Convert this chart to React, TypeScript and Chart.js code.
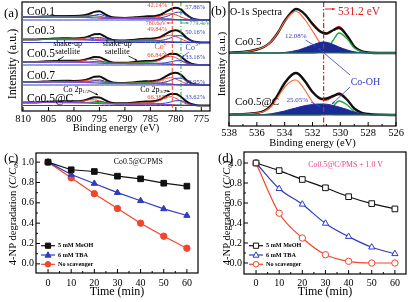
import React, { useEffect, useRef } from "react";
import { Chart, registerables } from "chart.js";

Chart.register(...registerables);

const SERIF = "'Liberation Serif', 'Times New Roman', serif";
const W = 414;
const H = 302;

// ---------------- (a) Co 2p XPS ----------------
const A_BE = [810, 808, 806, 804, 802, 800, 798, 797, 796, 795, 794, 793, 792, 790, 788, 786, 785, 784, 783, 782, 781, 780, 779, 778, 777, 776, 775, 773.3];
const A_TICKS = [810, 805, 800, 795, 790, 785, 780, 775];
const A_SAMPLES = ["Co0.1", "Co0.3", "Co0.5", "Co0.7", "Co0.5@C"];
const A_BASELINE = [91, 68.5, 46, 26, 5.5];
const A_BACKGROUND = [3.0, 3.0, 3.0, 3.0, 2.9, 2.8, 2.6, 2.4, 2.1, 1.8, 1.6, 1.5, 1.5, 1.5, 1.4, 1.4, 1.3, 1.3, 1.2, 1.0, 0.8, 0.5, 0.3, 0.1, 0, 0, 0, 0];
const A_SATELLITE = [0, 0, 0.3, 0.6, 0.8, 0.6, 0.3, 0.4, 0.9, 1.2, 0.9, 0.4, 0.2, 0.3, 0.6, 0.9, 0.8, 0.5, 0.2, 0.05, 0, 0, 0, 0, 0, 0, 0, 0];
const A_CO2_01 = [0, 0, 0.1, 0.3, 0.4, 0.6, 1.4, 2.2, 2.5, 1.9, 1.1, 0.6, 0.3, 0.3, 0.7, 1.1, 1.2, 1.7, 2.8, 4.7, 5.5, 4.7, 2.8, 1.1, 0.3, 0, 0, 0];
const A_CO2_03 = [0, 0, 0.1, 0.3, 0.5, 0.7, 1.6, 2.6, 2.9, 2.3, 1.3, 0.7, 0.3, 0.3, 0.8, 1.3, 1.4, 2.0, 3.3, 5.5, 6.5, 5.5, 3.3, 1.3, 0.3, 0, 0, 0];
const A_CO2_05 = [0, 0, 0.2, 0.4, 0.6, 0.8, 2.0, 3.2, 3.6, 2.8, 1.6, 0.8, 0.4, 0.4, 1.0, 1.6, 1.8, 2.4, 4.0, 6.8, 8.0, 6.8, 4.0, 1.6, 0.4, 0, 0, 0];
const A_CO2_07 = [0, 0, 0.1, 0.3, 0.5, 0.7, 1.6, 2.6, 2.9, 2.3, 1.3, 0.7, 0.3, 0.3, 0.8, 1.3, 1.4, 2.0, 3.3, 5.5, 6.5, 5.5, 3.3, 1.3, 0.3, 0, 0, 0];
const A_CO2_05C = [0, 0, 0.2, 0.4, 0.6, 0.8, 2.0, 3.2, 3.6, 2.8, 1.6, 0.8, 0.4, 0.4, 1.0, 1.6, 1.8, 2.4, 4.0, 6.8, 8.0, 6.8, 4.0, 1.6, 0.4, 0, 0, 0];
const A_CO3_01 = [0, 0, 0, 0, 0, 0, 0.4, 1.1, 2.6, 3.8, 2.6, 1.1, 0.4, 0, 0, 0.2, 0.4, 0.6, 1.1, 2.3, 4.5, 7.1, 7.5, 4.5, 1.9, 0.5, 0.1, 0];
const A_CO3_03 = [0, 0, 0, 0, 0, 0, 0.3, 1.0, 2.3, 3.3, 2.3, 1.0, 0.3, 0, 0, 0.2, 0.3, 0.5, 1.0, 2.0, 3.9, 6.2, 6.5, 3.9, 1.6, 0.5, 0.1, 0];
const A_CO3_05 = [0, 0, 0, 0, 0, 0, 0.2, 0.6, 1.4, 2.0, 1.4, 0.6, 0.2, 0, 0, 0.1, 0.2, 0.3, 0.6, 1.2, 2.4, 3.8, 4.0, 2.4, 1.0, 0.3, 0, 0];
const A_CO3_07 = [0, 0, 0, 0, 0, 0, 0.3, 1.0, 2.3, 3.3, 2.3, 1.0, 0.3, 0, 0, 0.2, 0.3, 0.5, 1.0, 2.0, 3.9, 6.2, 6.5, 3.9, 1.6, 0.5, 0.1, 0];
const A_CO3_05C = [0, 0, 0, 0, 0, 0, 0.2, 0.7, 1.6, 2.3, 1.6, 0.7, 0.2, 0, 0, 0.1, 0.2, 0.4, 0.7, 1.4, 2.7, 4.3, 4.5, 2.7, 1.1, 0.3, 0, 0];
const A_CO2 = [A_CO2_01, A_CO2_03, A_CO2_05, A_CO2_07, A_CO2_05C];
const A_CO3 = [A_CO3_01, A_CO3_03, A_CO3_05, A_CO3_07, A_CO3_05C];
const A_CO2_PCT = ["42.14%", "49.84%", "66.84%", "51.05%", "66.38%"];
const A_CO3_PCT = ["57.86%", "50.16%", "33.16%", "48.95%", "33.62%"];

// ---------------- (b) O 1s XPS ----------------
const B_BE = [538, 537, 536, 535.5, 535, 534.5, 534, 533.5, 533.2, 533, 532.5, 532, 531.5, 531.2, 531, 530.5, 530.1, 529.5, 529, 528.5, 528, 527, 526];
const B_TICKS = [538, 536, 534, 532, 530, 528, 526];
const B_SAMPLES = ["Co0.5", "Co0.5@C"];
const B_BASELINE = [73, 11];
const B_OH_PCT = ["12.08%", "25.05%"];
const B_RAW_05 = [0.3, 1, 3.5, 6, 11, 20, 32, 41, 44, 43.5, 38, 29, 22, 20, 19.5, 23, 25, 17, 6.5, 2, 0.5, 0, 0];
const B_OA_05 = [0.3, 1, 3.5, 6, 11, 20, 31.5, 39.5, 41.5, 40.5, 32.5, 22, 11, 6, 4, 1.5, 0.5, 0, 0, 0, 0, 0, 0];
const B_OH_05 = [0, 0, 0, 0, 0, 0, 0.5, 1.5, 2.5, 3, 5.5, 8, 10.5, 11, 10.8, 8.5, 6, 3, 1.2, 0.4, 0, 0, 0];
const B_OL_05 = [0, 0, 0, 0, 0, 0, 0, 0, 0, 0, 0, 0, 1, 2.5, 4, 13, 20, 14, 5, 1.5, 0.3, 0, 0];
const B_RAW_05C = [0.3, 0.8, 2, 4, 9, 20, 32, 40, 42, 41, 33, 23, 17, 16, 16.5, 19, 21, 15, 6.5, 2.5, 1, 0.2, 0];
const B_OA_05C = [0.3, 0.8, 2, 3.5, 8, 17.5, 28, 34, 35, 33.5, 24, 13, 5, 2.5, 1.5, 0.3, 0, 0, 0, 0, 0, 0, 0];
const B_OH_05C = [0, 0, 0, 0.5, 1.2, 2.5, 4, 6, 7, 7.8, 9.5, 10.5, 11, 11, 10.8, 9.5, 8, 5.5, 3, 1.5, 0.6, 0, 0];
const B_OL_05C = [0, 0, 0, 0, 0, 0, 0, 0, 0, 0, 0, 0, 0, 1.5, 2.5, 9, 14, 10, 3.5, 1, 0.3, 0, 0];
const B_RAW = [B_RAW_05, B_RAW_05C];
const B_OA = [B_OA_05, B_OA_05C];
const B_OH = [B_OH_05, B_OH_05C];
const B_OL = [B_OL_05, B_OL_05C];

// ---------------- (c), (d) degradation ----------------
const TIME = [0, 10, 20, 30, 40, 50, 60];
const SERIES_LABELS = ["5 mM MeOH", "6 mM TBA", "No scavenger"];
const C_MEOH = [1.0, 0.925, 0.908, 0.862, 0.836, 0.793, 0.764];
const C_TBA = [1.0, 0.879, 0.79, 0.7, 0.62, 0.54, 0.475];
const C_NONE = [1.0, 0.846, 0.69, 0.544, 0.4, 0.272, 0.154];
const D_MEOH = [1.0, 0.924, 0.835, 0.752, 0.663, 0.594, 0.541];
const D_TBA = [1.0, 0.743, 0.587, 0.396, 0.264, 0.158, 0.092];
const D_NONE = [1.0, 0.498, 0.25, 0.083, 0.017, 0.0, 0.0];
const CD_X_TICKS = [0, 10, 20, 30, 40, 50, 60];
const CD_Y_TICKS = [0, 0.2, 0.4, 0.6, 0.8, 1.0];

// ---------------- colours ----------------
const K = "#111111";
const RED = "#f2452b";
const BLUE = "#2f3cc2";
const GREEN = "#1aa843";
const PURPLE = "#8a46c9";
const NAVY = "#1c2a96";
const ORANGE = "#ff6a3d";

// ---------------- drawing helpers ----------------
type Part = { t: string; s: number; dy?: number; i?: boolean; b?: boolean };

function fontOf(p: Part) {
  return `${p.i ? "italic " : ""}${p.b ? "bold " : ""}${p.s}px ${SERIF}`;
}

function rich(ctx: CanvasRenderingContext2D, parts: Part[], x: number, y: number, color: string, align: "left" | "center" | "right" = "left") {
  let total = 0;
  for (const p of parts) {
    ctx.font = fontOf(p);
    total += ctx.measureText(p.t).width;
  }
  let cx = align === "center" ? x - total / 2 : align === "right" ? x - total : x;
  ctx.fillStyle = color;
  ctx.textAlign = "left";
  ctx.textBaseline = "middle";
  for (const p of parts) {
    ctx.font = fontOf(p);
    ctx.fillText(p.t, cx, y + (p.dy || 0));
    cx += ctx.measureText(p.t).width;
  }
}

function txt(ctx: CanvasRenderingContext2D, s: string, x: number, y: number, size: number, color = "#000", align: "left" | "center" | "right" = "left") {
  rich(ctx, [{ t: s, s: size }], x, y, color, align);
}

function arrow(ctx: CanvasRenderingContext2D, x1: number, y1: number, x2: number, y2: number, color: string, head = 3, lw = 0.8) {
  ctx.strokeStyle = color;
  ctx.fillStyle = color;
  ctx.lineWidth = lw;
  ctx.setLineDash([]);
  ctx.beginPath();
  ctx.moveTo(x1, y1);
  ctx.lineTo(x2, y2);
  ctx.stroke();
  const a = Math.atan2(y2 - y1, x2 - x1);
  ctx.beginPath();
  ctx.moveTo(x2, y2);
  ctx.lineTo(x2 - head * Math.cos(a - 0.45), y2 - head * Math.sin(a - 0.45));
  ctx.lineTo(x2 - head * Math.cos(a + 0.45), y2 - head * Math.sin(a + 0.45));
  ctx.closePath();
  ctx.fill();
}

function yTitle(ctx: CanvasRenderingContext2D, parts: Part[], cx: number, cy: number) {
  ctx.save();
  ctx.translate(cx, cy);
  ctx.rotate(-Math.PI / 2);
  rich(ctx, parts, 0, 0, "#000", "center");
  ctx.restore();
}

// frame + inward ticks
const framePlugin = {
  id: "frame",
  afterDraw(chart: any, _a: any, opts: any) {
    const { ctx, chartArea: a, scales } = chart;
    ctx.save();
    ctx.setLineDash([]);
    ctx.strokeStyle = "#000";
    ctx.lineWidth = 1.2;
    ctx.strokeRect(a.left, a.top, a.right - a.left, a.bottom - a.top);
    ctx.lineWidth = 1;
    ctx.beginPath();
    const xs = scales.x;
    const xt = xs.ticks.map((t: any) => t.value);
    xt.forEach((v: number, i: number) => {
      const p = xs.getPixelForValue(v);
      ctx.moveTo(p, a.bottom);
      ctx.lineTo(p, a.bottom - 4);
      if (opts.minor && i < xt.length - 1) {
        const m = xs.getPixelForValue((v + xt[i + 1]) / 2);
        ctx.moveTo(m, a.bottom);
        ctx.lineTo(m, a.bottom - 2);
      }
    });
    if (opts.yTicks) {
      const ys = scales.y;
      const yt = ys.ticks.map((t: any) => t.value);
      yt.forEach((v: number, i: number) => {
        const p = ys.getPixelForValue(v);
        ctx.moveTo(a.left, p);
        ctx.lineTo(a.left + 4, p);
        if (opts.minor && i < yt.length - 1) {
          const m = ys.getPixelForValue((v + yt[i + 1]) / 2);
          ctx.moveTo(a.left, m);
          ctx.lineTo(a.left + 2, m);
        }
      });
    }
    ctx.stroke();
    ctx.restore();
  },
};

type Box = { L: number; T: number; R: number; B: number; yw: number; xh: number };

function layoutOf(b: Box) {
  return { padding: { left: b.L - b.yw, top: b.T, right: W - b.R, bottom: H - b.B - b.xh } };
}

function xAxis(b: Box, min: number, max: number, ticks: number[], reverse: boolean, title: string, tickSize: number, titleSize: number, tickPad: number) {
  return {
    type: "linear",
    min,
    max,
    reverse,
    grid: { display: false, drawTicks: false },
    border: { display: false },
    ticks: { font: { family: SERIF, size: tickSize }, color: "#000", padding: tickPad, autoSkip: false, maxRotation: 0 },
    afterBuildTicks: (s: any) => {
      s.ticks = ticks.map((v) => ({ value: v }));
    },
    afterFit: (s: any) => {
      s.height = b.xh;
      s.paddingLeft = 0;
      s.paddingRight = 0;
    },
    title: { display: true, text: title, color: "#000", font: { family: SERIF, size: titleSize }, padding: { top: 0, bottom: 0 } },
  };
}

function yAxis(b: Box, min: number, max: number, ticks: number[] | null, tickSize: number) {
  return {
    type: "linear",
    min,
    max,
    grid: { display: false, drawTicks: false },
    border: { display: false },
    ticks: {
      display: !!ticks,
      font: { family: SERIF, size: tickSize },
      color: "#000",
      padding: 2,
      autoSkip: false,
      callback: (v: number) => Number(v).toFixed(1),
    },
    afterBuildTicks: (s: any) => {
      if (ticks) s.ticks = ticks.map((v) => ({ value: v }));
    },
    afterFit: (s: any) => {
      s.width = b.yw;
      s.paddingTop = 0;
      s.paddingBottom = 0;
    },
    title: { display: false },
  };
}

function lineDs(data: { x: number; y: number }[], color: string, width: number, extra: any = {}) {
  return {
    data,
    borderColor: color,
    backgroundColor: color,
    borderWidth: width,
    pointRadius: 0,
    fill: false,
    cubicInterpolationMode: "monotone",
    ...extra,
  };
}

const baseOptions = {
  animation: false,
  responsive: false,
  devicePixelRatio: 1,
  events: [],
};

// ---------------- panel (a) ----------------
const BOX_A: Box = { L: 22, T: 2, R: 210, B: 111, yw: 22, xh: 23.3 };

function configA() {
  const datasets: any[] = [];
  A_SAMPLES.forEach((_, i) => {
    const base = A_BASELINE[i];
    const co2 = A_CO2[i];
    const co3 = A_CO3[i];
    const pts = (vals: number[]) => A_BE.map((be, k) => ({ x: be, y: base + vals[k] }));
    const flat = A_BE.map(() => 0);
    const bgSat = A_BACKGROUND.map((v, k) => v + A_SATELLITE[k]);
    const bgCo3 = A_BACKGROUND.map((v, k) => v + co3[k]);
    const bgCo2 = A_BACKGROUND.map((v, k) => v + co2[k]);
    const env = A_BACKGROUND.map((v, k) => v + co2[k] + co3[k] + A_SATELLITE[k]);
    datasets.push(lineDs(pts(flat), BLUE, 1));
    datasets.push(lineDs(pts(A_BACKGROUND), PURPLE, 1.2));
    datasets.push(lineDs(pts(bgSat), GREEN, 1));
    datasets.push(lineDs(pts(bgCo3), BLUE, 1));
    datasets.push(lineDs(pts(bgCo2), RED, 1));
    datasets.push(lineDs(pts(env), K, 2));
    datasets.push(lineDs(pts(env), PURPLE, 0.9));
  });

  const annot = {
    id: "annotA",
    afterDatasetsDraw(chart: any) {
      const { ctx, chartArea: a, scales } = chart;
      const px = (v: number) => scales.x.getPixelForValue(v);
      const py = (v: number) => scales.y.getPixelForValue(v);
      ctx.save();
      ctx.lineWidth = 1;
      ctx.strokeStyle = RED;
      ctx.setLineDash([4, 2]);
      ctx.beginPath();
      ctx.moveTo(px(780.7), a.top);
      ctx.lineTo(px(780.7), a.bottom);
      ctx.stroke();
      ctx.strokeStyle = GREEN;
      ctx.setLineDash([4, 2, 1, 2]);
      ctx.beginPath();
      ctx.moveTo(px(779.0), a.top);
      ctx.lineTo(px(779.0), a.bottom);
      ctx.stroke();
      ctx.setLineDash([]);

      const labelU = [99.5, 80, 57, 35, 12.5];
      A_SAMPLES.forEach((s, i) => txt(ctx, s, px(809.2), py(labelU[i]), 11.5));
      const redU = [106, 82, 56, 29, 14];
      const blueU = [104, 79, 54, 29, 14];
      A_CO2_PCT.forEach((s, i) => txt(ctx, s, px(783.65), py(redU[i]), 6.5, RED, "center"));
      A_CO3_PCT.forEach((s, i) => txt(ctx, s, px(776.2), py(blueU[i]), 6.5, BLUE, "center"));

      txt(ctx, "780.6eV", px(781.9), py(88), 6, RED, "right");
      arrow(ctx, px(780.7), py(88), px(781.8), py(88), RED, 2.5);
      txt(ctx, "779.4eV", px(777.3), py(88), 6, GREEN, "left");
      arrow(ctx, px(779.0), py(88), px(777.5), py(88), GREEN, 2.5);

      rich(ctx, [{ t: "Co", s: 8 }, { t: "2+", s: 5.5, dy: -3 }], px(782.7), py(64), RED, "center");
      rich(ctx, [{ t: "Co", s: 8 }, { t: "3+", s: 5.5, dy: -3 }], px(776.6), py(63), BLUE, "center");
      arrow(ctx, px(782.4), py(60), px(781.4), py(54), RED, 2.5);
      arrow(ctx, px(777.4), py(59), px(778.8), py(54), BLUE, 2.5);

      txt(ctx, "shake-up", px(801.25), py(67), 8, "#000", "center");
      txt(ctx, "satellite", px(801.25), py(59), 8, "#000", "center");
      txt(ctx, "shake-up", px(791.5), py(67), 8, "#000", "center");
      txt(ctx, "satellite", px(791.5), py(59), 8, "#000", "center");
      arrow(ctx, px(802.0), py(54.5), px(803.2), py(50.5), "#000", 2.5);
      arrow(ctx, px(789.3), py(55), px(787.6), py(50.5), "#000", 2.5);

      rich(ctx, [{ t: "Co 2p", s: 8 }, { t: "1/2", s: 5, dy: 2 }], px(802.1), py(21), "#000");
      arrow(ctx, px(797.1), py(20.5), px(795.3), py(16), "#000", 2.5);
      rich(ctx, [{ t: "Co 2p", s: 8 }, { t: "3/2", s: 5, dy: 2 }], px(787.0), py(21), "#000");
      arrow(ctx, px(782.2), py(20.5), px(781.2), py(19.5), "#000", 2.5);

      yTitle(ctx, [{ t: "Intensity (a.u.)", s: 12 }], 13, 64);
      txt(ctx, "(a)", 4, 14, 13);
      ctx.restore();
    },
  };

  return {
    type: "line",
    data: { datasets },
    options: {
      ...baseOptions,
      layout: layoutOf(BOX_A),
      plugins: { legend: { display: false }, tooltip: { enabled: false }, frame: { minor: false, yTicks: false } },
      scales: {
        x: xAxis(BOX_A, 773.3, 810.2, A_TICKS, true, "Binding energy (eV)", 10.5, 10.5, 2),
        y: yAxis(BOX_A, 0, BOX_A.B - BOX_A.T, null, 10),
      },
    },
    plugins: [annot, framePlugin],
  };
}

// ---------------- panel (b) ----------------
const BOX_B: Box = { L: 229, T: 2, R: 396, B: 126, yw: 17, xh: 23.3 };

function configB() {
  const datasets: any[] = [];
  B_SAMPLES.forEach((_, i) => {
    const base = B_BASELINE[i];
    const pts = (vals: number[]) => B_BE.map((be, k) => ({ x: be, y: base + vals[k] }));
    const flat = B_BE.map(() => 0);
    const fit = B_OA[i].map((v, k) => v + B_OH[i][k] + B_OL[i][k]);
    datasets.push(lineDs(pts(flat), "#2e7d4f", 1.2));
    datasets.push(lineDs(pts(B_OH[i]), NAVY, 1, { fill: { value: base }, backgroundColor: NAVY }));
    datasets.push(lineDs(pts(B_OL[i]), GREEN, 1.3));
    datasets.push(lineDs(pts(B_OA[i]), ORANGE, 1.2));
    datasets.push(lineDs(pts(B_RAW[i]), K, 2.4));
    datasets.push(lineDs(pts(fit), "#e01e1e", 1.3));
  });

  const annot = {
    id: "annotB",
    afterDatasetsDraw(chart: any) {
      const { ctx, chartArea: a, scales } = chart;
      const px = (v: number) => scales.x.getPixelForValue(v);
      const py = (v: number) => scales.y.getPixelForValue(v);
      ctx.save();
      ctx.strokeStyle = "#e01e1e";
      ctx.lineWidth = 1.2;
      ctx.setLineDash([5, 2, 1.5, 2]);
      ctx.beginPath();
      ctx.moveTo(px(531.2), a.top);
      ctx.lineTo(px(531.2), a.bottom);
      ctx.stroke();
      ctx.setLineDash([]);
      arrow(ctx, px(531.1), py(117), px(530.4), py(117), "#e01e1e", 3, 1);
      txt(ctx, "531.2 eV", px(530.17), py(114), 11.5, "#e01e1e");

      txt(ctx, "O-1s Spectra", px(537.93), py(114), 10);
      const labelU = [84, 24];
      B_SAMPLES.forEach((s, i) => txt(ctx, s, px(537.57), py(labelU[i]), 11));
      txt(ctx, B_OH_PCT[0], px(533.2), py(90), 7, BLUE, "center");
      txt(ctx, B_OH_PCT[1], px(533.1), py(26), 7, BLUE, "center");
      arrow(ctx, px(532.5), py(86), px(531.75), py(79.5), BLUE, 2.5);
      arrow(ctx, px(532.1), py(24), px(531.45), py(19), BLUE, 2.5);

      txt(ctx, "Co-OH", px(528.2), py(44), 10, BLUE, "center");
      arrow(ctx, px(529.3), py(51), px(531.6), py(78), BLUE, 3);
      arrow(ctx, px(529.3), py(39), px(530.6), py(22), BLUE, 3);

      yTitle(ctx, [{ t: "Intensity (a.u.)", s: 11 }], 222, 64);
      txt(ctx, "(b)", 211, 12, 13);
      ctx.restore();
    },
  };

  return {
    type: "line",
    data: { datasets },
    options: {
      ...baseOptions,
      layout: layoutOf(BOX_B),
      plugins: { legend: { display: false }, tooltip: { enabled: false }, frame: { minor: true, yTicks: false } },
      scales: {
        x: xAxis(BOX_B, 526, 538, B_TICKS, true, "Binding energy (eV)", 10.5, 10.5, 1),
        y: yAxis(BOX_B, 0, BOX_B.B - BOX_B.T, null, 10),
      },
    },
    plugins: [annot, framePlugin],
  };
}

// ---------------- panels (c), (d) ----------------
const BOX_C: Box = { L: 36, T: 153, R: 198, B: 273, yw: 36, xh: 26.2 };
const BOX_D: Box = { L: 244, T: 152, R: 406, B: 274, yw: 30, xh: 24.7 };

function degradationConfig(box: Box, series: number[][], open: boolean, smooth: boolean, letter: string, note: string, noteColor: string, noteX: number, noteY: number, yMin: number, yMax: number, legendDy: number) {
  const colors = [K, BLUE, RED];
  const styles = ["rect", "triangle", "circle"];
  const radii = [4, 3.6, 3.2];
  const datasets = series.map((vals, i) => ({
    label: SERIES_LABELS[i],
    data: TIME.map((t, k) => ({ x: t, y: vals[k] })),
    borderColor: colors[i],
    backgroundColor: open ? "#ffffff" : colors[i],
    pointBorderColor: colors[i],
    pointBackgroundColor: open ? "#ffffff" : colors[i],
    pointStyle: styles[i],
    pointRadius: radii[i],
    pointBorderWidth: 1,
    borderWidth: 1.2,
    fill: false,
    cubicInterpolationMode: smooth ? "monotone" : "default",
    tension: 0,
  }));

  const annot = {
    id: "annot" + letter,
    afterDatasetsDraw(chart: any) {
      const { ctx, chartArea: a, scales } = chart;
      const px = (v: number) => scales.x.getPixelForValue(v);
      const py = (v: number) => scales.y.getPixelForValue(v);
      ctx.save();
      txt(ctx, note, px(noteX), py(noteY), 7.8, noteColor, "center");
      // legend
      chart.data.datasets.forEach((ds: any, i: number) => {
        const y = a.bottom - legendDy + i * 9.3;
        const x0 = a.left + 5;
        const x1 = a.left + 19;
        ctx.strokeStyle = ds.borderColor;
        ctx.lineWidth = 1.2;
        ctx.beginPath();
        ctx.moveTo(x0, y);
        ctx.lineTo(x1, y);
        ctx.stroke();
        const mx = (x0 + x1) / 2;
        ctx.fillStyle = ds.pointBackgroundColor;
        ctx.strokeStyle = ds.borderColor;
        ctx.lineWidth = 1;
        ctx.beginPath();
        if (ds.pointStyle === "rect") {
          ctx.rect(mx - 2.6, y - 2.6, 5.2, 5.2);
        } else if (ds.pointStyle === "triangle") {
          ctx.moveTo(mx, y - 3.2);
          ctx.lineTo(mx + 3, y + 2.2);
          ctx.lineTo(mx - 3, y + 2.2);
          ctx.closePath();
        } else {
          ctx.arc(mx, y, 2.8, 0, Math.PI * 2);
        }
        ctx.fill();
        ctx.stroke();
        rich(ctx, [{ t: ds.label, s: 6.2, b: true }], x1 + 3, y, "#000");
      });
      yTitle(
        ctx,
        [
          { t: "4-NP degradation (", s: 10.5 },
          { t: "C", s: 10.5, i: true },
          { t: "/", s: 10.5 },
          { t: "C", s: 10.5, i: true },
          { t: "0", s: 7, i: true, dy: 2.5 },
          { t: ")", s: 10.5 },
        ],
        box.L - box.yw + 13.5,
        (a.top + a.bottom) / 2
      );
      txt(ctx, letter, box.L - box.yw + 4, 159, 13);
      ctx.restore();
    },
  };

  return {
    type: "line",
    data: { datasets },
    options: {
      ...baseOptions,
      layout: layoutOf(box),
      plugins: { legend: { display: false }, tooltip: { enabled: false }, frame: { minor: true, yTicks: true } },
      scales: {
        x: xAxis(box, -5.2, 64.8, CD_X_TICKS, false, "Time (min)", 10, 12, box === BOX_C ? 4 : 3),
        y: yAxis(box, yMin, yMax, CD_Y_TICKS, 10),
      },
    },
    plugins: [annot, framePlugin],
  };
}

function configC() {
  return degradationConfig(BOX_C, [C_MEOH, C_TBA, C_NONE], false, false, "(c)", "Co0.5@C/PMS", "#000", 39, 1.0, -0.09, 1.09, 27.3);
}

function configD() {
  return degradationConfig(BOX_D, [D_MEOH, D_TBA, D_NONE], true, true, "(d)", "Co0.5@C/PMS + 1.0 V", "#e8408f", 38.7, 0.98, -0.11, 1.11, 28.3);
}

function ChartLayer({ make }: { make: () => any }) {
  const ref = useRef<HTMLCanvasElement>(null);
  useEffect(() => {
    const chart = new Chart(ref.current as HTMLCanvasElement, make());
    return () => chart.destroy();
  }, []);
  return <canvas ref={ref} width={W} height={H} style={{ position: "absolute", left: 0, top: 0, width: W, height: H }} />;
}

export default function App() {
  return (
    <div style={{ position: "absolute", left: 0, top: 0, width: W, height: H, background: "#ffffff", overflow: "hidden" }}>
      <ChartLayer make={configA} />
      <ChartLayer make={configB} />
      <ChartLayer make={configC} />
      <ChartLayer make={configD} />
    </div>
  );
}
